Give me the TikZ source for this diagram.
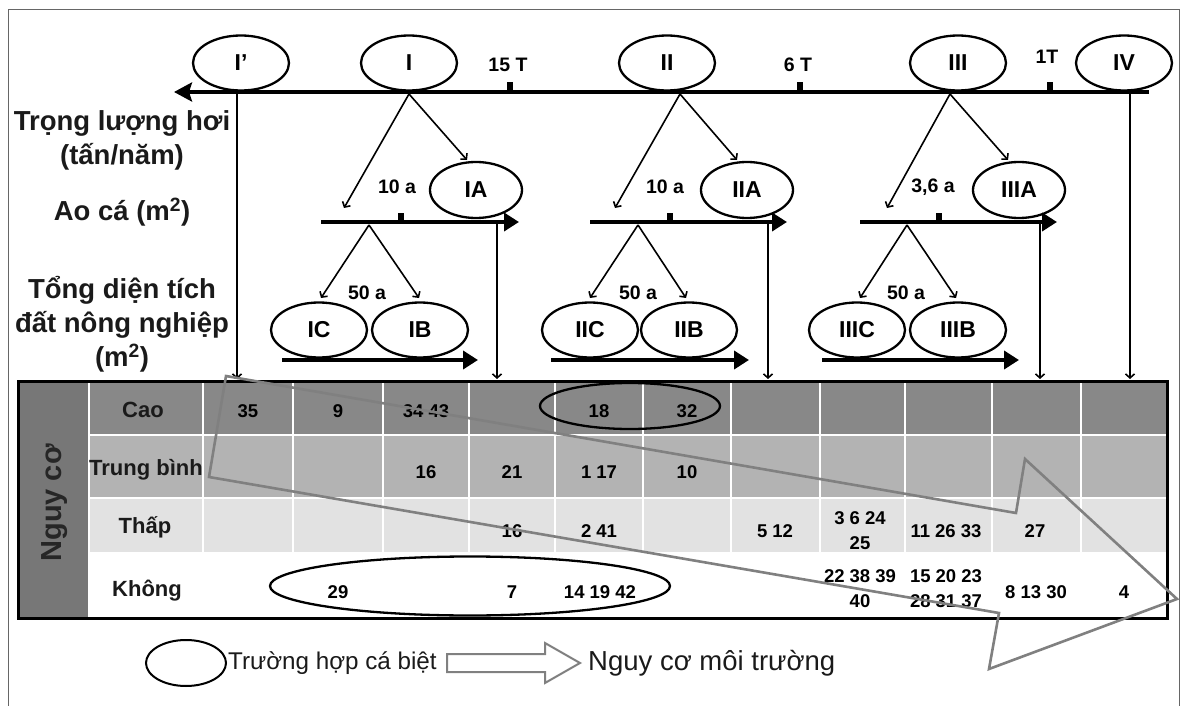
\documentclass[tikz,border=0pt]{standalone}
\usepackage{fontspec}
\usepackage{graphicx}
\setmainfont{Liberation Sans}
\usetikzlibrary{arrows.meta,shapes.geometric}
\definecolor{caoc}{HTML}{888888}
\definecolor{tbc}{HTML}{B3B3B3}
\definecolor{thapc}{HTML}{E2E2E2}
\definecolor{ngc}{HTML}{777777}
\definecolor{bigarr}{HTML}{808080}
\definecolor{framec}{HTML}{666666}
\definecolor{txt}{HTML}{1A1A1A}
\begin{document}
\begin{tikzpicture}[x=1pt,y=-1pt,
  ell/.style={draw, ellipse, line width=2.3pt, minimum width=96pt, minimum height=55pt, inner sep=0pt, font=\bfseries\fontsize{23}{23}\selectfont},
  smallell/.style={ell, minimum width=92pt, minimum height=56pt},
  thinarr/.style={line width=1.6pt, -{Straight Barb[length=4pt,width=9pt]}},
  topaxis/.style={line width=4.5pt, -{Stealth[length=18pt,width=19pt,inset=3pt]}},
  subaxis/.style={line width=4.5pt, -{Triangle[length=15pt,width=18pt]}},
  lbl/.style={font=\bfseries\fontsize{27.5}{27.5}\selectfont, inner sep=0pt, text=txt},
  ticklbl/.style={font=\bfseries\fontsize{19.5}{19.5}\selectfont, inner sep=0pt},
  num/.style={font=\bfseries\fontsize{18.5}{25}\selectfont, inner sep=0pt, align=center},
  rowlbl/.style={font=\bfseries\fontsize{22}{22}\selectfont, inner sep=0pt, text=txt},
  caseell/.style={draw, ellipse, line width=2.3pt, inner sep=0pt},
  gridw/.style={white, line width=2.5pt}
]
\useasboundingbox (0,0) rectangle (1187,706);
\fill[white] (0,0) rectangle (1187,706);
% outer frame
\draw[framec, line width=1pt] (8.5,706) -- (8.5,10) -- (1179,10) -- (1179,706);

% ---------------- top axis ----------------
\coordinate (axR) at (1149,92);
\coordinate (axL) at (174,92);
\draw[topaxis] (axR) -- (axL);
\fill (507,90) rectangle (513,82);
\fill (797,90) rectangle (803,82);
\fill (1047,90) rectangle (1053,82);
\node[ticklbl] (t15) at (508,65) {15 T};
\node[ticklbl] (t6) at (798,65) {6 T};
\node[ticklbl] (t1) at (1047,57) {1T};

\node[ell] (Ip) at (241,63) {I’};
\node[ell] (I) at (409,63) {I};
\node[ell] (II) at (667,63) {II};
\node[ell] (III) at (958,63) {III};
\node[ell] (IV) at (1124,63) {IV};

% left labels
\node[lbl] (L1) at (122,123) {Trọng lượng hơi};
\node[lbl] (L2) at (122,157) {(tấn/năm)};
\node[lbl] (L3) at (122,212) {Ao cá (m\textsuperscript{2})};
\node[lbl] (L4) at (122,290) {Tổng diện tích};
\node[lbl] (L5) at (122,325) {đất nông nghiệp};
\node[lbl] (L6) at (122,358) {(m\textsuperscript{2})};

% ---------------- group I ----------------
\coordinate (jI) at (409,94);
\coordinate (eIa) at (344,208);
\coordinate (eIb) at (467,160);
\draw[thinarr] (jI) -- (eIa);
\draw[thinarr] (jI) -- (eIb);
\node[ticklbl] (aI) at (397,187) {10 a};
\node[smallell] (IA) at (476,190) {IA};
\coordinate (sIL) at (321,222);
\coordinate (sIR) at (519,222);
\draw[subaxis] (sIL) -- (sIR);
\fill (398,220) rectangle (404,213);
\coordinate (kI) at (369,225);
\coordinate (kIa) at (321,298);
\coordinate (kIb) at (419,298);
\draw[thinarr] (kI) -- (kIa);
\draw[thinarr] (kI) -- (kIb);
\node[ticklbl] (bI) at (367,293) {50 a};
\node[ell] (IC) at (319,330) {IC};
\node[ell] (IB) at (420,330) {IB};
\coordinate (bIL) at (282,360);
\coordinate (bIR) at (478,360);
\draw[subaxis] (bIL) -- (bIR);

% ---------------- group II ----------------
\coordinate (jII) at (680,94);
\coordinate (eIIa) at (615,208);
\coordinate (eIIb) at (737,160);
\draw[thinarr] (jII) -- (eIIa);
\draw[thinarr] (jII) -- (eIIb);
\node[ticklbl] (aII) at (665,187) {10 a};
\node[smallell] (IIA) at (747,190) {IIA};
\coordinate (sIIL) at (590,222);
\coordinate (sIIR) at (787,222);
\draw[subaxis] (sIIL) -- (sIIR);
\fill (667,220) rectangle (673,213);
\coordinate (kII) at (638,225);
\coordinate (kIIa) at (590,298);
\coordinate (kIIb) at (686,298);
\draw[thinarr] (kII) -- (kIIa);
\draw[thinarr] (kII) -- (kIIb);
\node[ticklbl] (bII) at (638,293) {50 a};
\node[ell] (IIC) at (590,330) {IIC};
\node[ell] (IIB) at (689,330) {IIB};
\coordinate (bIIL) at (551,360);
\coordinate (bIIR) at (749,360);
\draw[subaxis] (bIIL) -- (bIIR);

% ---------------- group III ----------------
\coordinate (jIII) at (950,94);
\coordinate (eIIIa) at (887,208);
\coordinate (eIIIb) at (1008,160);
\draw[thinarr] (jIII) -- (eIIIa);
\draw[thinarr] (jIII) -- (eIIIb);
\node[ticklbl] (aIII) at (933,187) {3,6 a};
\node[smallell] (IIIA) at (1019,190) {IIIA};
\coordinate (sIIIL) at (860,222);
\coordinate (sIIIR) at (1057,222);
\draw[subaxis] (sIIIL) -- (sIIIR);
\fill (936,220) rectangle (942,213);
\coordinate (kIII) at (907,225);
\coordinate (kIIIa) at (860,298);
\coordinate (kIIIb) at (956,298);
\draw[thinarr] (kIII) -- (kIIIa);
\draw[thinarr] (kIII) -- (kIIIb);
\node[ticklbl] (bIII) at (906,293) {50 a};
\node[ell] (IIIC) at (857,330) {IIIC};
\node[ell] (IIIB) at (958,330) {IIIB};
\coordinate (bIIIL) at (822,360);
\coordinate (bIIIR) at (1019,360);
\draw[subaxis] (bIIIL) -- (bIIIR);

% ---------------- vertical connectors to table ----------------
\coordinate (v1a) at (237,92);  \coordinate (v1b) at (237,379);
\coordinate (v2a) at (497,222); \coordinate (v2b) at (497,379);
\coordinate (v3a) at (768,222); \coordinate (v3b) at (768,379);
\coordinate (v4a) at (1040,222);\coordinate (v4b) at (1040,379);
\coordinate (v5a) at (1130,92); \coordinate (v5b) at (1130,379);
\foreach \a/\b in {v1a/v1b,v2a/v2b,v3a/v3b,v4a/v4b,v5a/v5b}
  \draw[thinarr] (\a) -- (\b);

% ---------------- table ----------------
\fill[caoc] (88,381) rectangle (1167,435);
\fill[tbc] (88,435) rectangle (1167,498);
\fill[thapc] (88,498) rectangle (1167,553);
\fill[white] (88,553) rectangle (1167,618);
\fill[ngc] (18,381) rectangle (88,618);
\foreach \x in {203,293,383,469,555,643,731,820,905,992,1081}
  \draw[gridw] (\x,381) -- (\x,553);
\draw[gridw] (89,381) -- (89,618);
\foreach \y in {435,498,553}
  \draw[gridw] (88,\y) -- (1167,\y);
\draw[line width=3pt] (18,381) rectangle (1167,618);

\node[rotate=90, inner sep=0pt, text=black!85, font=\bfseries\fontsize{29}{29}\selectfont] (ng) at (55,503) {Nguy cơ};
\node[rowlbl] (rCao) at (143,410) {Cao};
\node[rowlbl] (rTB) at (146,470) {Trung bình};
\node[rowlbl] (rThap) at (145,527) {Thấp};
\node[rowlbl] (rKhong) at (147,591) {Không};

\node[num] (n35) at (248,411) {35};
\node[num] (n9) at (338,411) {9};
\node[num] (n3443) at (426,411) {34 43};
\node[num] (n18) at (599,411) {18};
\node[num] (n32) at (687,411) {32};
\node[num] (n16a) at (426,472) {16};
\node[num] (n21) at (512,472) {21};
\node[num] (n117) at (599,472) {1 17};
\node[num] (n10) at (687,472) {10};
\node[num] (n16b) at (512,531) {16};
\node[num] (n241) at (599,531) {2 41};
\node[num] (n512) at (775,531) {5 12};
\node[num] (n3624) at (860,531) {3 6 24\\25};
\node[num] (n112633) at (946,531) {11 26 33};
\node[num] (n27) at (1035,531) {27};
\node[num] (n29) at (338,592) {29};
\node[num] (n7) at (512,592) {7};
\node[num] (n141942) at (600,592) {14 19 42};
\node[num] (n223839) at (860,589) {22 38 39\\40};
\node[num] (n152023) at (946,589) {15 20 23\\28 31 37};
\node[num] (n81330) at (1036,592) {8 13 30};
\node[num] (n4) at (1124,592) {4};

\node[caseell, minimum width=180pt, minimum height=46pt] (eCao) at (630,406) {};
\node[caseell, minimum width=400pt, minimum height=59pt] (eKhong) at (470,586) {};

% big grey hollow arrow
\draw[bigarr, line width=2.6pt, line join=miter]
  (226,376) -- (1016,513) -- (1025,459) -- (1177,599) -- (989,669) -- (999,613) -- (209,477) -- cycle;

% ---------------- legend ----------------
\node[caseell, line width=2pt, minimum width=80pt, minimum height=46pt] (legE) at (186,663) {};
\node[anchor=west, inner sep=0pt, font=\fontsize{24.2}{24.2}\selectfont, text=txt] (legT1) at (228,663) {Trường hợp cá biệt};
\draw[bigarr, line width=2pt, line join=miter]
  (447,654) -- (545,654) -- (545,643) -- (580,663) -- (545,683) -- (545,672) -- (447,672) -- cycle;
\node[anchor=west, inner sep=0pt, font=\fontsize{27.5}{27.5}\selectfont, text=txt] (legT2) at (588,663) {Nguy cơ môi trường};
\end{tikzpicture}
\end{document}
